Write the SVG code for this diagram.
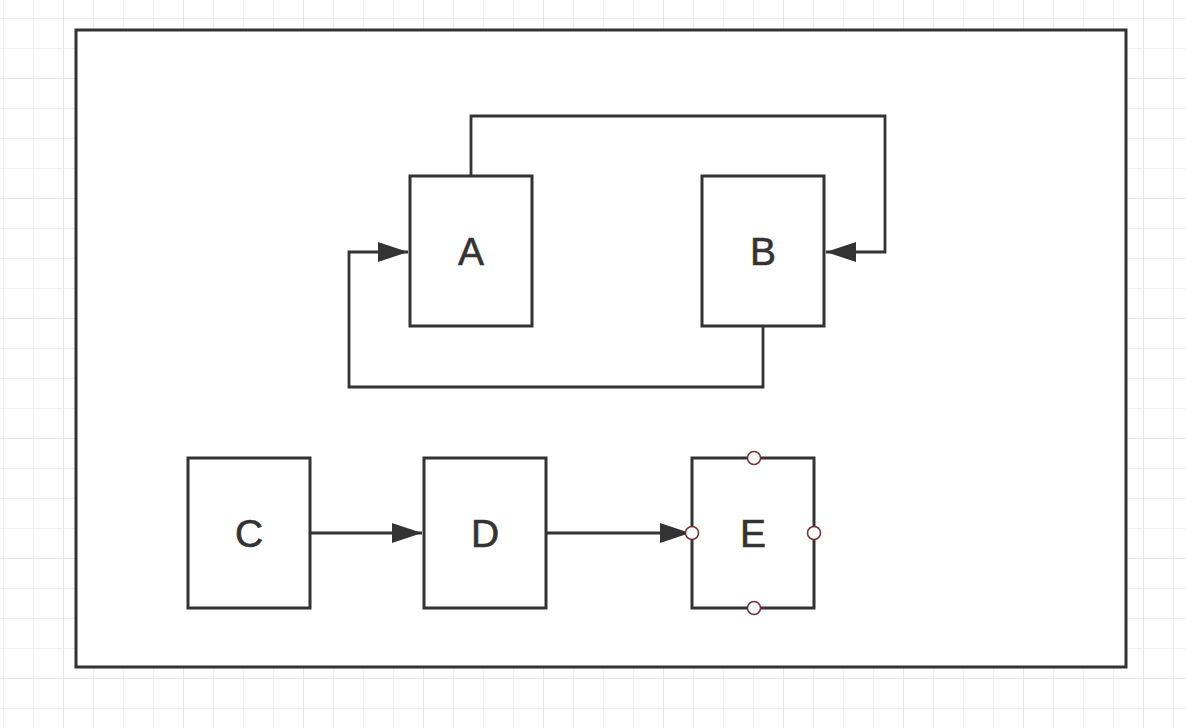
<svg xmlns="http://www.w3.org/2000/svg" width="1186" height="728" viewBox="0 0 1186 728">
<defs>
<pattern id="minor" x="3" y="18" width="30" height="30" patternUnits="userSpaceOnUse">
<path d="M0 0H30M0 0V30" fill="none" stroke="#ececec" stroke-width="1.5"/>
</pattern>
<pattern id="major" x="63" y="78" width="120" height="120" patternUnits="userSpaceOnUse">
<path d="M0 0H120M0 0V120" fill="none" stroke="#e3e3e3" stroke-width="1.5"/>
</pattern>
<marker id="arr" viewBox="0 0 30 20" refX="30" refY="10" markerWidth="30" markerHeight="20" markerUnits="userSpaceOnUse" orient="auto">
<path d="M0 0L30 10L0 20Z" fill="#333"/>
</marker>
</defs>
<style>
.node{fill:#fff;stroke:#333;stroke-width:3}
.lbl{font-family:"Liberation Sans",Arial,sans-serif;font-size:39px;fill:#333;stroke:#333;stroke-width:0.6;text-anchor:middle}
.edge{fill:none;stroke:#333;stroke-width:2.8}
.pt{fill:#fff;stroke:#7a2f2f;stroke-width:1.5}
</style>
<rect width="1186" height="728" fill="#fff"/>
<rect width="1186" height="728" fill="url(#minor)"/>
<rect width="1186" height="728" fill="url(#major)"/>
<g id="container"><rect x="76" y="30" width="1050" height="637" fill="#fff" stroke="#333" stroke-width="3"/></g>
<g id="node-A"><rect class="node" x="410" y="176" width="122" height="150"/><text class="lbl" x="471" y="265">A</text></g>
<g id="node-B"><rect class="node" x="702" y="176" width="122" height="150"/><text class="lbl" x="763" y="265">B</text></g>
<g id="node-C"><rect class="node" x="188" y="458" width="122" height="150"/><text class="lbl" x="249" y="547">C</text></g>
<g id="node-D"><rect class="node" x="424" y="458" width="122" height="150"/><text class="lbl" x="485" y="547">D</text></g>
<g id="node-E"><rect class="node" x="692" y="458" width="122" height="150"/><text class="lbl" x="753" y="547">E</text></g>
<g id="connectors">
<path class="edge" d="M471 176V116H885V252H826" marker-end="url(#arr)"/>
<path class="edge" d="M763 326V387H349V252H408" marker-end="url(#arr)"/>
<path class="edge" d="M310 533H422" marker-end="url(#arr)"/>
<path class="edge" d="M546 533H690" marker-end="url(#arr)"/>
</g>
<g id="E-points">
<circle class="pt" cx="754" cy="458" r="6.5"/>
<circle class="pt" cx="692" cy="533" r="6.5"/>
<circle class="pt" cx="814" cy="533" r="6.5"/>
<circle class="pt" cx="754" cy="608" r="6.5"/>
</g>
</svg>
